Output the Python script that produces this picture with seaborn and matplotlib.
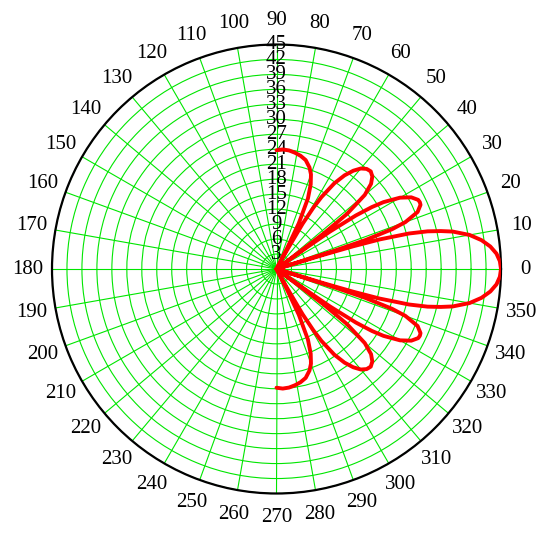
import numpy as np
import pandas as pd
import matplotlib
matplotlib.use("Agg")
import matplotlib.pyplot as plt
import seaborn as sns

# Curve (upper half, degrees / radius); the pattern is mirror-symmetric about 0 deg
theta_deg_upper = [0, 2, 4, 6, 8, 10, 12, 13, 14, 15, 16, 16.5, 16.8, 17.1,
                   17.5, 18, 19, 20, 22, 24, 25, 26, 28, 30, 32, 33, 34, 35, 35.5, 36.0,
                   36.5, 37, 38, 40, 42, 44, 46, 48, 50, 52, 54, 56, 58, 59, 60, 61, 61.9,
                   63, 64, 66, 68, 70, 72, 75, 78, 81, 84, 87, 90]
radius_upper = [45, 44.8, 44.2, 43.1, 41.5, 39.3, 36.1, 33.8, 31.2, 27.5, 21.5, 16.0, 10.0, 0,
                11.8, 18.6, 24.5, 27.5, 30.5, 31.6, 31.7, 31.6, 30.6, 28.6, 25.3, 22.8, 19.2, 13.1, 7.3, 0,
                5.8, 12.0, 17.9, 23.1, 25.5, 26.7, 27.2, 27.0, 26.3, 25.0, 23.2, 20.7, 17.0, 14.3, 10.5, 4.0, 0,
                4.7, 10.2, 15.5, 18.3, 20.2, 21.4, 22.6, 23.2, 23.6, 23.9, 24.0, 23.8]

angle_ticks = list(range(0, 360, 10))
angle_labels = [str(a) for a in angle_ticks]
radius_ticks = list(range(3, 46, 3))
radius_labels = [str(r) for r in radius_ticks]

sns.set_style("white")
plt.rcParams['font.family'] = ['Liberation Serif', 'DejaVu Serif']
plt.rcParams['text.color'] = 'black'
plt.rcParams['xtick.color'] = 'black'
plt.rcParams['xtick.labelcolor'] = 'black'

theta_full = [-t for t in reversed(theta_deg_upper[1:])] + theta_deg_upper
radius_full = list(reversed(radius_upper[1:])) + radius_upper
df = pd.DataFrame({"theta": np.deg2rad(theta_full), "r": radius_full})

fig = plt.figure(figsize=(5.5, 5.36), dpi=100)
ax = fig.add_axes([52 / 550, (536 - 493.5) / 536, 449 / 550, 449 / 536], projection="polar")

sns.lineplot(data=df, x="theta", y="r", sort=False, estimator=None, ax=ax,
             color="#ff0000", linewidth=2.8, zorder=5)

ax.set_ylim(0, 45)
ax.set_yticks(radius_ticks)
ax.set_yticklabels([])
ax.set_thetagrids(angle_ticks, angle_labels, fontsize=15)
ax.tick_params(axis="x", pad=7, colors="black")
ax.grid(True, color="#00e600", linewidth=0.8)
ax.spines["polar"].set_color("black")
ax.spines["polar"].set_linewidth(1.6)

for rt, lab in zip(radius_ticks, radius_labels):
    ax.text(np.pi / 2, rt, lab, ha="center", va="center", fontsize=15,
            color="black", zorder=3)

ax.set_xlabel("")
ax.set_ylabel("")
fig.savefig("out.png", dpi=100)
